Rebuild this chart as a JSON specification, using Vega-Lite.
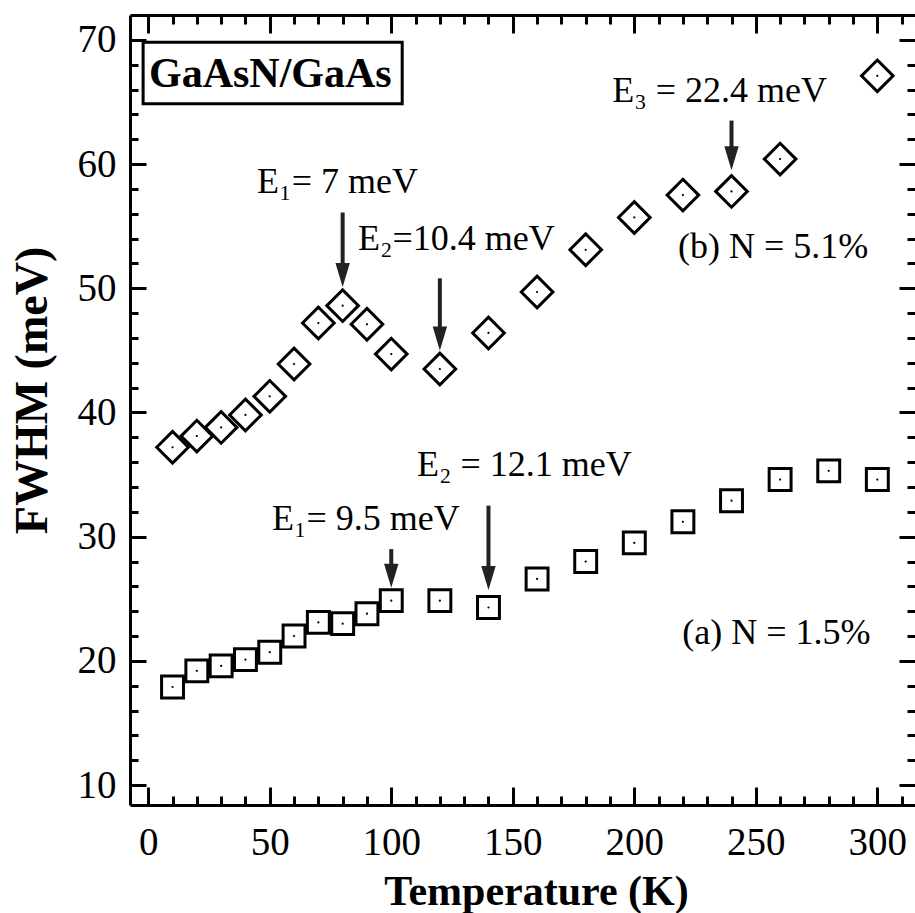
{
  "$schema": "https://vega.github.io/schema/vega-lite/v6.json",
  "width": 785,
  "height": 790,
  "autosize": {"type": "none"},
  "padding": {"left": 130, "top": 15, "right": 0, "bottom": 108},
  "background": "white",
  "config": {
    "view": {"stroke": null},
    "font": "Liberation Serif",
    "axis": {
      "domainColor": "black",
      "domainWidth": 3,
      "tickColor": "black",
      "tickWidth": 3,
      "labelFont": "Liberation Serif",
      "labelFontSize": 39,
      "labelColor": "black",
      "grid": false,
      "titleFont": "Liberation Serif",
      "titleFontWeight": "bold",
      "titleColor": "black",
      "labelOverlap": false,
      "labelFlush": false
    }
  },
  "datasets": {
    "a": [
      {"T": 10, "fwhm": 17.9}, {"T": 20, "fwhm": 19.2}, {"T": 30, "fwhm": 19.6}, {"T": 40, "fwhm": 20.1},
      {"T": 50, "fwhm": 20.7}, {"T": 60, "fwhm": 22.0}, {"T": 70, "fwhm": 23.1}, {"T": 80, "fwhm": 23.0},
      {"T": 90, "fwhm": 23.8}, {"T": 100, "fwhm": 24.85}, {"T": 120, "fwhm": 24.85}, {"T": 140, "fwhm": 24.3},
      {"T": 160, "fwhm": 26.6}, {"T": 180, "fwhm": 28.0}, {"T": 200, "fwhm": 29.5}, {"T": 220, "fwhm": 31.2},
      {"T": 240, "fwhm": 32.9}, {"T": 260, "fwhm": 34.6}, {"T": 280, "fwhm": 35.3}, {"T": 300, "fwhm": 34.6}
    ],
    "b": [
      {"T": 10, "fwhm": 37.2}, {"T": 20, "fwhm": 38.1}, {"T": 30, "fwhm": 38.8}, {"T": 40, "fwhm": 39.8},
      {"T": 50, "fwhm": 41.3}, {"T": 60, "fwhm": 43.9}, {"T": 70, "fwhm": 47.2}, {"T": 80, "fwhm": 48.6},
      {"T": 90, "fwhm": 47.1}, {"T": 100, "fwhm": 44.7}, {"T": 120, "fwhm": 43.5}, {"T": 140, "fwhm": 46.4},
      {"T": 160, "fwhm": 49.7}, {"T": 180, "fwhm": 53.1}, {"T": 200, "fwhm": 55.7}, {"T": 220, "fwhm": 57.5},
      {"T": 240, "fwhm": 57.8}, {"T": 260, "fwhm": 60.4}, {"T": 300, "fwhm": 67.1}
    ],
    "arrows": [
      {"T": 80, "top": 56.1, "head": 51.2, "tip": 50.1},
      {"T": 120, "top": 50.8, "head": 46.1, "tip": 45.0},
      {"T": 240, "top": 63.5, "head": 60.6, "tip": 59.5},
      {"T": 100, "top": 29.0, "head": 27.0, "tip": 25.9},
      {"T": 140, "top": 32.5, "head": 26.8, "tip": 25.7}
    ],
    "notes": [
      {"T": 44.8, "v": 57.7, "label": "E₁= 7 meV"},
      {"T": 86.3, "v": 53.05, "label": "E₂=10.4 meV"},
      {"T": 190.9, "v": 65.0, "label": "E₃ = 22.4 meV"},
      {"T": 218.0, "v": 52.4, "label": "(b) N = 5.1%"},
      {"T": 110.6, "v": 34.9, "label": "E₂ = 12.1 meV"},
      {"T": 50.9, "v": 30.5, "label": "E₁= 9.5 meV"},
      {"T": 219.7, "v": 21.4, "label": "(a) N = 1.5%"}
    ],
    "box": [
      {"x1": -2.1, "x2": 104.5, "y1": 69.8, "y2": 64.85, "T": 0.3, "v": 66.2, "label": "GaAsN/GaAs"}
    ]
  },
  "layer": [
    {
      "data": {"name": "a"},
      "mark": {"type": "point", "shape": "square", "size": 480, "filled": false, "stroke": "black", "strokeWidth": 3, "opacity": 1},
      "encoding": {
        "x": {
          "field": "T", "type": "quantitative",
          "scale": {"domain": [-7.5, 315.5], "nice": false, "zero": false},
          "axis": {
            "orient": "bottom",
            "values": [0, 10, 20, 30, 40, 50, 60, 70, 80, 90, 100, 110, 120, 130, 140, 150, 160, 170, 180, 190, 200, 210, 220, 230, 240, 250, 260, 270, 280, 290, 300, 310],
            "labelExpr": "datum.value % 50 === 0 ? datum.label : ''",
            "tickSize": {"condition": {"test": "datum.value % 50 === 0", "value": -18}, "value": -9},
            "labelPadding": 36,
            "title": "Temperature (K)",
            "titleFontSize": 42,
            "titleX": 406,
            "titleY": 99,
            "titleAlign": "center",
            "titleBaseline": "alphabetic"
          }
        },
        "y": {
          "field": "fwhm", "type": "quantitative",
          "scale": {"domain": [8.4, 72], "nice": false, "zero": false},
          "axis": {
            "orient": "left",
            "values": [10, 12, 14, 16, 18, 20, 22, 24, 26, 28, 30, 32, 34, 36, 38, 40, 42, 44, 46, 48, 50, 52, 54, 56, 58, 60, 62, 64, 66, 68, 70],
            "labelExpr": "datum.value % 10 === 0 ? datum.label : ''",
            "tickSize": {"condition": {"test": "datum.value % 10 === 0", "value": -16}, "value": -8},
            "labelPadding": 30,
            "title": "FWHM (meV)",
            "titleFontSize": 46,
            "titleAngle": -90,
            "titleX": -84,
            "titleY": 375,
            "titleAlign": "center",
            "titleBaseline": "alphabetic"
          }
        }
      }
    },
    {
      "data": {"name": "b"},
      "mark": {"type": "point", "shape": "diamond", "size": 1000, "filled": false, "stroke": "black", "strokeWidth": 3, "opacity": 1},
      "encoding": {
        "x": {
          "field": "T", "type": "quantitative",
          "axis": {
            "orient": "top",
            "values": [0, 10, 20, 30, 40, 50, 60, 70, 80, 90, 100, 110, 120, 130, 140, 150, 160, 170, 180, 190, 200, 210, 220, 230, 240, 250, 260, 270, 280, 290, 300, 310],
            "labels": false,
            "tickSize": {"condition": {"test": "datum.value % 50 === 0", "value": -18}, "value": -9},
            "title": null
          }
        },
        "y": {
          "field": "fwhm", "type": "quantitative",
          "axis": {
            "orient": "right",
            "values": [10, 12, 14, 16, 18, 20, 22, 24, 26, 28, 30, 32, 34, 36, 38, 40, 42, 44, 46, 48, 50, 52, 54, 56, 58, 60, 62, 64, 66, 68, 70],
            "labels": false,
            "domain": false,
            "tickSize": {"condition": {"test": "datum.value % 10 === 0", "value": -16}, "value": -8},
            "title": null
          }
        }
      }
    },
    {
      "data": {"name": "a"},
      "mark": {"type": "point", "shape": "circle", "size": 5, "filled": true, "color": "black", "opacity": 1},
      "encoding": {
        "x": {"field": "T", "type": "quantitative", "axis": null},
        "y": {"field": "fwhm", "type": "quantitative", "axis": null}
      }
    },
    {
      "data": {"name": "b"},
      "mark": {"type": "point", "shape": "circle", "size": 5, "filled": true, "color": "black", "opacity": 1},
      "encoding": {
        "x": {"field": "T", "type": "quantitative", "axis": null},
        "y": {"field": "fwhm", "type": "quantitative", "axis": null}
      }
    },
    {
      "data": {"name": "arrows"},
      "mark": {"type": "rule", "color": "#222", "strokeWidth": 4},
      "encoding": {
        "x": {"field": "T", "type": "quantitative", "axis": null},
        "y": {"field": "top", "type": "quantitative", "axis": null},
        "y2": {"field": "head"}
      }
    },
    {
      "data": {"name": "arrows"},
      "mark": {"type": "point", "shape": "M-0.6,-2L0.6,-2L0,0Z", "size": 576, "filled": true, "color": "#222", "opacity": 1},
      "encoding": {
        "x": {"field": "T", "type": "quantitative", "axis": null},
        "y": {"field": "tip", "type": "quantitative", "axis": null}
      }
    },
    {
      "data": {"name": "notes"},
      "mark": {"type": "text", "align": "left", "baseline": "alphabetic", "font": "Liberation Serif", "fontSize": 36, "color": "black"},
      "encoding": {
        "x": {"field": "T", "type": "quantitative", "axis": null},
        "y": {"field": "v", "type": "quantitative", "axis": null},
        "text": {"field": "label"}
      }
    },
    {
      "data": {"name": "box"},
      "mark": {"type": "rect", "fill": "white", "stroke": "black", "strokeWidth": 3},
      "encoding": {
        "x": {"field": "x1", "type": "quantitative", "axis": null},
        "x2": {"field": "x2"},
        "y": {"field": "y1", "type": "quantitative", "axis": null},
        "y2": {"field": "y2"}
      }
    },
    {
      "data": {"name": "box"},
      "mark": {"type": "text", "align": "left", "baseline": "alphabetic", "font": "Liberation Serif", "fontWeight": "bold", "fontSize": 42, "color": "black"},
      "encoding": {
        "x": {"field": "T", "type": "quantitative", "axis": null},
        "y": {"field": "v", "type": "quantitative", "axis": null},
        "text": {"field": "label"}
      }
    }
  ],
  "resolve": {"axis": {"x": "independent", "y": "independent"}}
}
